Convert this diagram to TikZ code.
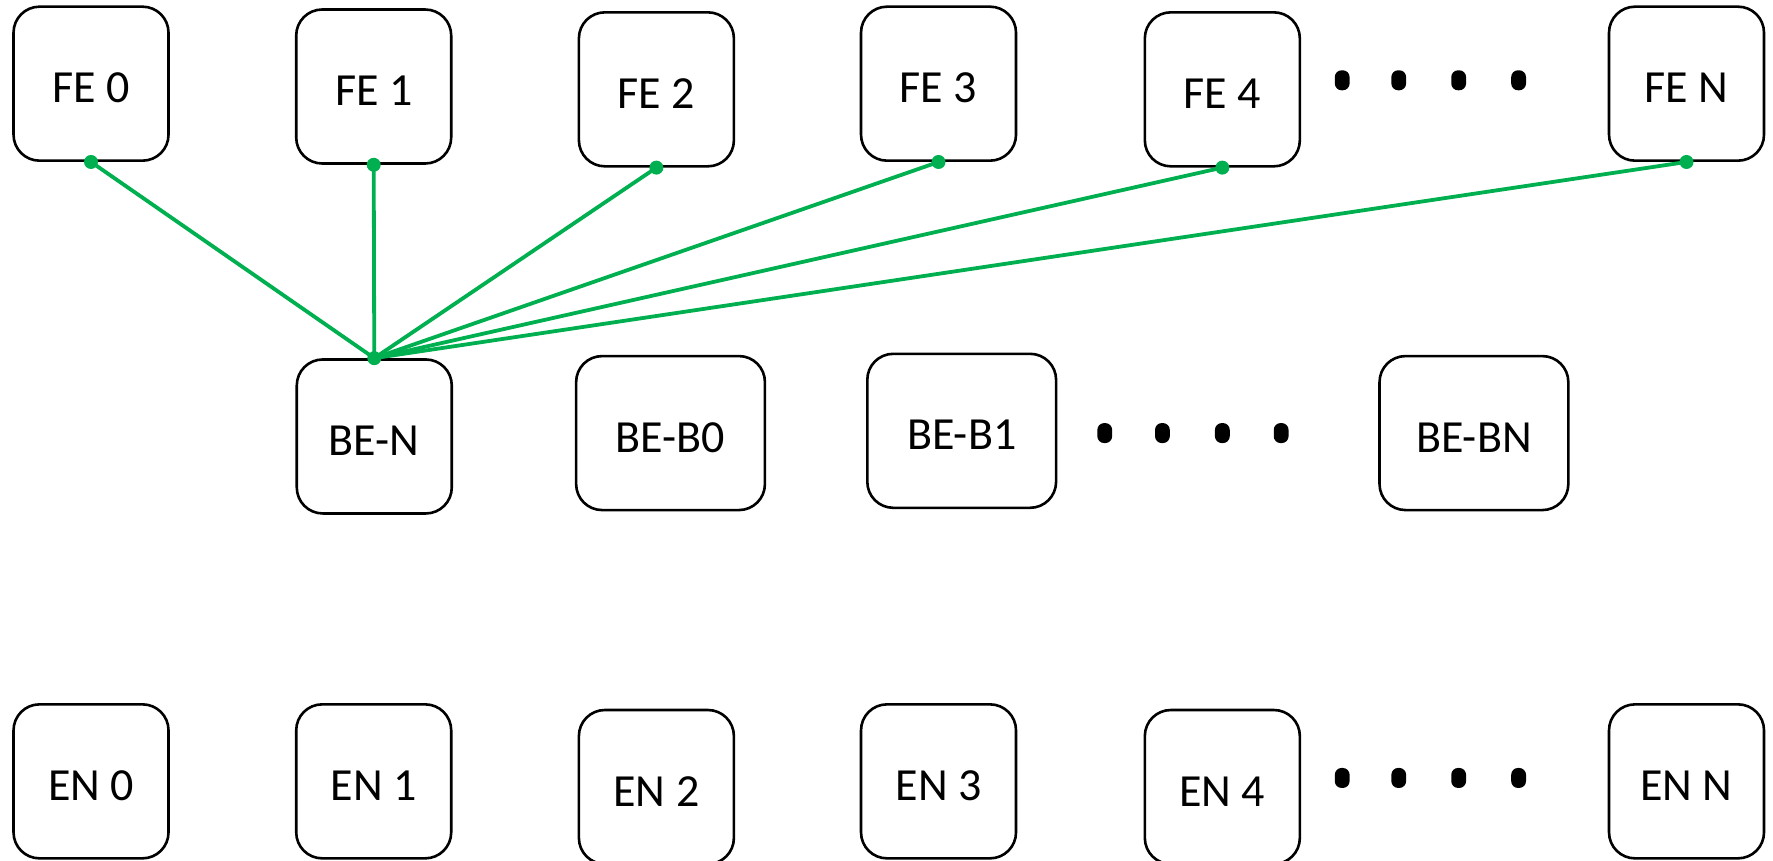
\documentclass[tikz,border=0pt]{standalone}
\usepackage{fontspec}
\setmainfont{Carlito}
\begin{document}
\begin{tikzpicture}[x=0.5654pt,y=-0.5654pt,
  box/.style={draw=black,line width=1.3pt,rounded corners=13pt,minimum width=77.5pt,minimum height=77pt,inner sep=0pt,font=\fontsize{23}{27}\selectfont,text=black,text height=19pt,text depth=0pt},
  wbox/.style={box,minimum width=94.4pt},
  bigdot/.style={fill=black,draw=none,rounded corners=3.4pt,minimum width=7.4pt,minimum height=10pt,inner sep=0pt},
  gline/.style={draw={rgb,255:red,0;green,176;blue,80},line width=1.9pt},
  gdot/.style={fill={rgb,255:red,0;green,176;blue,80},draw=none,circle,minimum size=7pt,inner sep=0pt}
]
\useasboundingbox (0,0) rectangle (1568,761);
\begin{scope}
\clip (0,0) rectangle (1568,761);
% top row
\node[box] (fe0) at (80.5,74) {FE 0};
\node[box] (fe1) at (330.5,76.5) {FE 1};
\node[box] (fe2) at (580.5,79) {FE 2};
\node[box] (fe3) at (830,74) {FE 3};
\node[box] (fe4) at (1081,79) {FE 4};
\node[box] (fen) at (1491.5,74) {FE N};
\node[bigdot] (td1) at (1187,71) {};
\node[bigdot] (td2) at (1237,71) {};
\node[bigdot] (td3) at (1290,71) {};
\node[bigdot] (td4) at (1343,71) {};
% middle row
\node[box] (ben) at (331,386) {BE-N};
\node[wbox] (beb0) at (593,383) {BE-B0};
\node[wbox] (beb1) at (850.5,381) {BE-B1};
\node[wbox] (bebn) at (1303.5,383) {BE-BN};
\node[bigdot] (md1) at (977,383) {};
\node[bigdot] (md2) at (1028,383) {};
\node[bigdot] (md3) at (1081,383) {};
\node[bigdot] (md4) at (1133,383) {};
% bottom row
\node[box] (en0) at (80.5,691) {EN 0};
\node[box] (en1) at (330.5,691) {EN 1};
\node[box] (en2) at (580.5,696) {EN 2};
\node[box] (en3) at (830,691) {EN 3};
\node[box] (en4) at (1081,696) {EN 4};
\node[box] (enn) at (1491.5,691) {EN N};
\node[bigdot] (bd1) at (1187,688) {};
\node[bigdot] (bd2) at (1237,688) {};
\node[bigdot] (bd3) at (1290,688) {};
\node[bigdot] (bd4) at (1343,688) {};
% green connectors
\foreach \f in {fe0,fe1,fe2,fe3,fe4,fen}{
  \draw[gline] (\f.south) -- (ben.north);
  \node[gdot] at (\f.south) {};
}
\node[gdot] at (ben.north) {};
\end{scope}
\end{tikzpicture}
\end{document}
